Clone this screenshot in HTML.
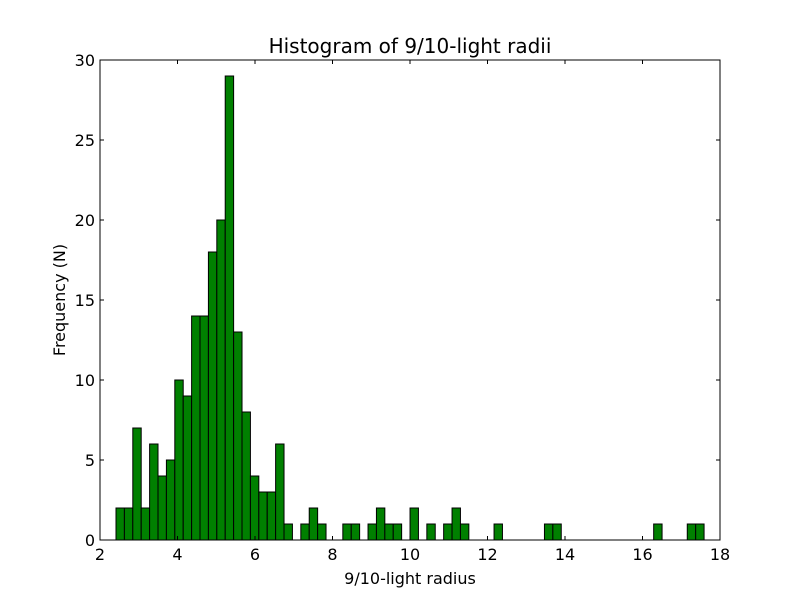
<!DOCTYPE html>
<html><head><meta charset="utf-8"><style>body{margin:0;background:#fff}svg{display:block;font-family:"DejaVu Sans","Liberation Sans",sans-serif}</style></head>
<body>
<svg id="c" width="800" height="600"></svg>
<script>
const binStart = 2.413;
const binWidth = 0.2168;
const counts = [2,2,7,2,6,4,5,10,9,14,14,18,20,29,13,8,4,3,3,6,1,0,1,2,1,0,0,1,1,0,1,2,1,1,0,2,0,1,0,1,2,1,0,0,0,1,0,0,0,0,0,1,1,0,0,0,0,0,0,0,0,0,0,0,1,0,0,0,1,1];
const xTicks = [2,4,6,8,10,12,14,16,18];
const yTicks = [0,5,10,15,20,25,30];
const L=100,R=720,T=60,B=540;
const xs=v=>L+(v-2)/16*(R-L);
const ys=v=>B-v/30*(B-T);
const svg=document.getElementById('c');
const NS='http://www.w3.org/2000/svg';
function mk(t,a,p){const e=document.createElementNS(NS,t);for(const k in a)e.setAttribute(k,a[k]);(p||svg).appendChild(e);return e;}
const bars=mk('g',{});


counts.forEach((c,i)=>{if(!c)return;const x0=xs(binStart+i*binWidth),x1=xs(binStart+(i+1)*binWidth);
const r=mk('rect',{x:x0,y:ys(c),width:x1-x0,height:ys(0)-ys(c),fill:'#008000',stroke:'#000','stroke-width':1},bars);

});
const f=mk('rect',{x:L,y:T,width:R-L,height:B-T,fill:'none',stroke:'#000','stroke-width':1});


xTicks.forEach(v=>{const x=xs(v);mk('line',{x1:x,x2:x,y1:B,y2:B-4,stroke:'#000'});mk('line',{x1:x,x2:x,y1:T,y2:T+4,stroke:'#000'});
const t=mk('text',{x:x,y:B+20,'text-anchor':'middle','font-size':16});t.textContent=v;

});
yTicks.forEach(v=>{const y=ys(v);mk('line',{x1:L,x2:L+4,y1:y,y2:y,stroke:'#000'});mk('line',{x1:R,x2:R-4,y1:y,y2:y,stroke:'#000'});
const t=mk('text',{x:L-5,y:y+6,'text-anchor':'end','font-size':16});t.textContent=v;

});
let t=mk('text',{x:410,y:53,'text-anchor':'middle','font-size':20});t.textContent='Histogram of 9/10-light radii';


t=mk('text',{x:410,y:584,'text-anchor':'middle','font-size':16});t.textContent='9/10-light radius';


t=mk('text',{x:0,y:0,'text-anchor':'middle','font-size':16,transform:'translate(65,300) rotate(-90)'});t.textContent='Frequency (N)';


</script>
</body></html>
